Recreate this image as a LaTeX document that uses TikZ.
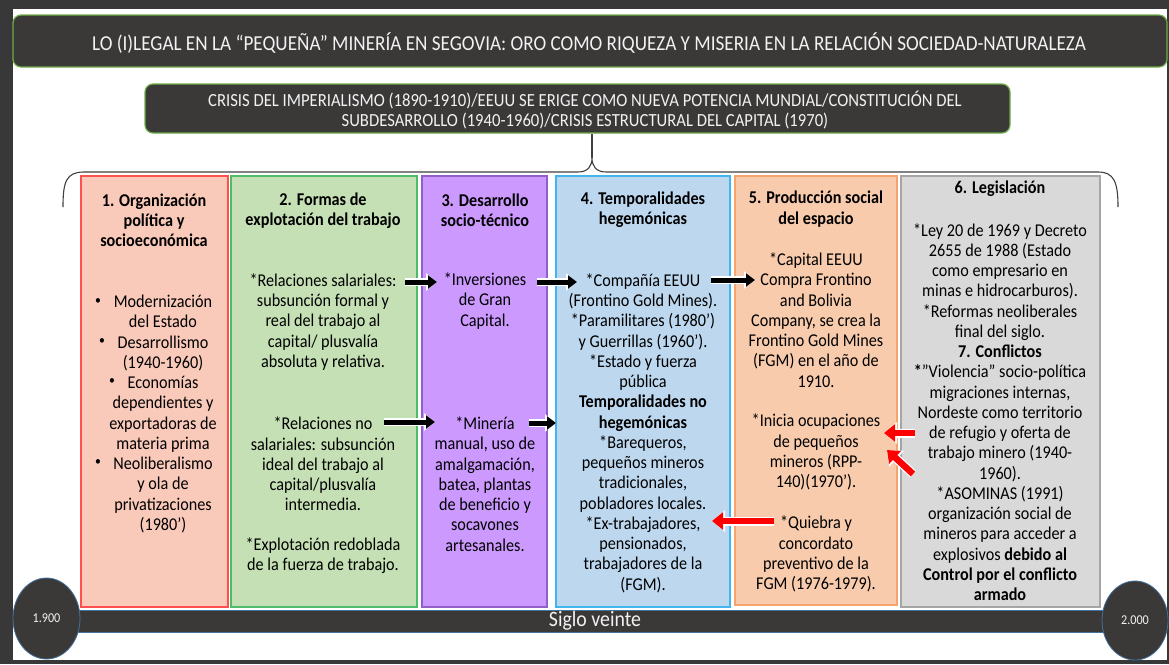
\documentclass[tikz,border=0pt]{standalone}
\usepackage{fontspec}
\setmainfont[FakeStretch=0.9]{Carlito}
\usetikzlibrary{arrows.meta,shapes.geometric}
\definecolor{framec}{HTML}{383838}
\definecolor{darkbox}{HTML}{3B3838}
\definecolor{boxgreen}{HTML}{6FAE48}
\definecolor{fillA}{HTML}{F9C9BA}\definecolor{drawA}{HTML}{FF5050}
\definecolor{fillB}{HTML}{C5E0B4}\definecolor{drawB}{HTML}{4EBB6A}
\definecolor{fillC}{HTML}{CC99FF}\definecolor{drawC}{HTML}{9060C8}
\definecolor{fillD}{HTML}{BDD7EE}\definecolor{drawD}{HTML}{41B6EE}
\definecolor{fillE}{HTML}{F8CBAD}\definecolor{drawE}{HTML}{F4A46C}
\definecolor{fillF}{HTML}{D9D9D9}\definecolor{drawF}{HTML}{A5A5A5}
\definecolor{ellborder}{HTML}{41719C}
\definecolor{lighttext}{HTML}{F2F2F2}
\definecolor{redarrow}{HTML}{FF0000}
\tikzset{
  darkpanel/.style={fill=darkbox, draw=boxgreen, line width=1.2pt, rounded corners=8pt, inner sep=0pt},
  colbox/.style={line width=1.5pt, inner sep=0pt, minimum height=431pt},
  coltext/.style={align=center, inner sep=0pt, text=black, font=\fontsize{18}{20.25}\selectfont},
  colhead/.style={coltext, font=\bfseries\fontsize{18}{20.25}\selectfont},
  bulletmark/.style={inner sep=0pt, text=black, font=\fontsize{13}{15}\selectfont},
  yearell/.style={ellipse, fill=darkbox, draw=ellborder, line width=0.8pt, inner sep=0pt,
    minimum width=67pt, minimum height=81pt, text=lighttext, font=\fontsize{13.5}{15}\selectfont},
  blkarrow/.style={line width=5pt, draw=black, -{Triangle[length=9pt,width=13pt]},
    preaction={draw=white, line width=7.5pt, -{Triangle[length=11pt,width=17pt]}}},
  redarr/.style={line width=6.5pt, draw=redarrow, -{Triangle[length=11pt,width=17pt]},
    preaction={draw=white, line width=9pt, -{Triangle[length=13pt,width=21pt]}}},
  bracepath/.style={draw=black!75, line width=1.1pt},
}
\begin{document}
\begin{tikzpicture}[x=1pt,y=-1pt]
\useasboundingbox (0,0) rectangle (1169,664);
\fill[framec] (0,0) rectangle (1169,664);
\fill[white] (13,9) rectangle (1167,660);

% title
\node[darkpanel, minimum width=1154pt, minimum height=52pt] (titlebox) at (590,41) {};
\node[inner sep=0pt, text=lighttext, font=\fontsize{21.3}{25}\selectfont] (title) at (589,43)
  {LO (I)LEGAL EN LA “PEQUEÑA” MINERÍA EN SEGOVIA: ORO COMO RIQUEZA Y MISERIA EN LA RELACIÓN SOCIEDAD-NATURALEZA};

% subtitle
\node[darkpanel, minimum width=865pt, minimum height=49pt] (sub) at (577.5,108.5) {};
\node[inner sep=0pt, align=center, text=lighttext, font=\fontsize{18.5}{20}\selectfont] (subtext) at (585,110)
  {CRISIS DEL IMPERIALISMO (1890-1910)/EEUU SE ERIGE COMO NUEVA POTENCIA MUNDIAL/CONSTITUCIÓN DEL\\
   SUBDESARROLLO (1940-1960)/CRISIS ESTRUCTURAL DEL CAPITAL (1970)};

% brace
\coordinate (tip) at (592,158);
\coordinate (braceL) at (63,207);
\coordinate (braceR) at (1118,207);
\draw[bracepath] (tip) -- (tip |- sub.south);
\draw[bracepath] (braceL) .. controls (63,182) and (66,172) .. (84,172) -- (578,172)
  .. controls (588,172) and (592,166) .. (tip)
  .. controls (592,166) and (596,172) .. (606,172) -- (1098,172)
  .. controls (1114,172) and (1118,182) .. (braceR);

% columns
\node[colbox, fill=fillA, draw=drawA, minimum width=147pt] (c1) at (154.5,391.5) {};
\node[colbox, fill=fillB, draw=drawB, minimum width=186pt] (c2) at (324,391.5) {};
\node[colbox, fill=fillC, draw=drawC, minimum width=125pt] (c3) at (484.5,391.5) {};
\node[colbox, fill=fillD, draw=drawD, minimum width=174pt] (c4) at (643,391.5) {};
\node[colbox, fill=fillE, draw=drawE, minimum width=162pt, minimum height=429pt] (c5) at (816,390.5) {};
\node[colbox, fill=fillF, draw=drawF, minimum width=199pt] (c6) at (1000.5,391.5) {};

% column 1
\node[colhead] (h1) at (154,220) {1. Organización\\política y\\socioeconómica};
\node[coltext] (t1) at (163,414) {Modernización\\del Estado\\Desarrollismo\\(1940-1960)\\Economías\\dependientes y\\exportadoras de\\materia prima\\Neoliberalismo\\y ola de\\privatizaciones\\(1980’)};
\node[bulletmark] (b1) at (98,302) {•};
\node[bulletmark] (b2) at (102,342) {•};
\node[bulletmark] (b3) at (112,382) {•};
\node[bulletmark] (b4) at (98,463) {•};

% column 2
\node[colhead] (h2) at (323,211) {2. Formas de\\explotación del trabajo};
\node[coltext] (t2a) at (323,322) {*Relaciones salariales:\\subsunción formal y\\real del trabajo al\\capital/ plusvalía\\absoluta y relativa.};
\node[coltext] (t2b) at (323,464) {*Relaciones no\\salariales: subsunción\\ideal del trabajo al\\capital/plusvalía\\intermedia.};
\node[coltext] (t2c) at (323,556) {*Explotación redoblada\\de la fuerza de trabajo.};

% column 3
\node[colhead] (h3) at (485,210) {3. Desarrollo\\socio-técnico};
\node[coltext] (t3a) at (485,301) {*Inversiones\\de Gran\\Capital.};
\node[coltext] (t3b) at (485,484) {*Minería\\manual, uso de\\amalgamación,\\batea, plantas\\de beneficio y\\socavones\\artesanales.};

% column 4
\node[colhead] (h4) at (643,210) {4. Temporalidades\\hegemónicas};
\node[coltext] (t4) at (643,433) {*Compañía EEUU\\(Frontino Gold Mines).\\*Paramilitares (1980’)\\y Guerrillas (1960’).\\*Estado y fuerza\\pública\\\textbf{Temporalidades no}\\\textbf{hegemónicas}\\*Barequeros,\\pequeños mineros\\tradicionales,\\pobladores locales.\\*Ex-trabajadores,\\pensionados,\\trabajadores de la\\(FGM).};

% column 5
\node[colhead] (h5) at (816,209) {5. Producción social\\del espacio};
\node[coltext] (t5a) at (816,320) {*Capital EEUU\\Compra Frontino\\and Bolivia\\Company, se crea la\\Frontino Gold Mines\\(FGM) en el año de\\1910.};
\node[coltext] (t5b) at (816,452) {*Inicia ocupaciones\\de pequeños\\mineros (RPP-\\140)(1970’).};
\node[coltext] (t5c) at (816,554) {*Quiebra y\\concordato\\preventivo de la\\FGM (1976-1979).};

% column 6
\node[colhead] (h6) at (1000,189) {6. Legislación};
\node[coltext] (t6) at (1000,412) {*Ley 20 de 1969 y Decreto\\2655 de 1988 (Estado\\como empresario en\\minas e hidrocarburos).\\*Reformas neoliberales\\final del siglo.\\\textbf{7. Conflictos}\\\textbf{*}”Violencia” socio-política\\migraciones internas,\\Nordeste como territorio\\de refugio y oferta de\\trabajo minero (1940-\\1960).\\*ASOMINAS (1991)\\organización social de\\mineros para acceder a\\explosivos \textbf{debido al}\\\textbf{Control por el conflicto}\\\textbf{armado}};

% arrows
\coordinate (a1s) at (405,282); \coordinate (a1e) at (437,282);
\coordinate (a2s) at (384,422); \coordinate (a2e) at (435,422);
\coordinate (a3s) at (537,282); \coordinate (a3e) at (577,282);
\coordinate (a4s) at (529,423); \coordinate (a4e) at (556,423);
\coordinate (a5s) at (711,280); \coordinate (a5e) at (755,280);
\coordinate (r1s) at (774,521); \coordinate (r1e) at (712,521);
\coordinate (r2s) at (915,433); \coordinate (r2e) at (884,433);
\coordinate (r3s) at (913,474); \coordinate (r3e) at (887,450);
\draw[blkarrow] (a1s) -- (a1e);
\draw[blkarrow] (a2s) -- (a2e);
\draw[blkarrow] (a3s) -- (a3e);
\draw[blkarrow] (a4s) -- (a4e);
\draw[blkarrow] (a5s) -- (a5e);
\draw[redarr] (r1s) -- (r1e);
\draw[redarr] (r2s) -- (r2e);
\draw[redarr] (r3s) -- (r3e);

% timeline
\node[fill=darkbox, draw=ellborder, line width=0.6pt, inner sep=0pt, minimum width=1058pt, minimum height=22pt,
  text=lighttext, font=\fontsize{22}{24}\selectfont] (bar) at (595,621) {Siglo veinte};
\node[yearell] (y1900) at (46.5,618.5) {1.900};
\node[yearell, minimum height=79pt, minimum width=66pt] (y2000) at (1135,620.5) {2.000};
\end{tikzpicture}
\end{document}
